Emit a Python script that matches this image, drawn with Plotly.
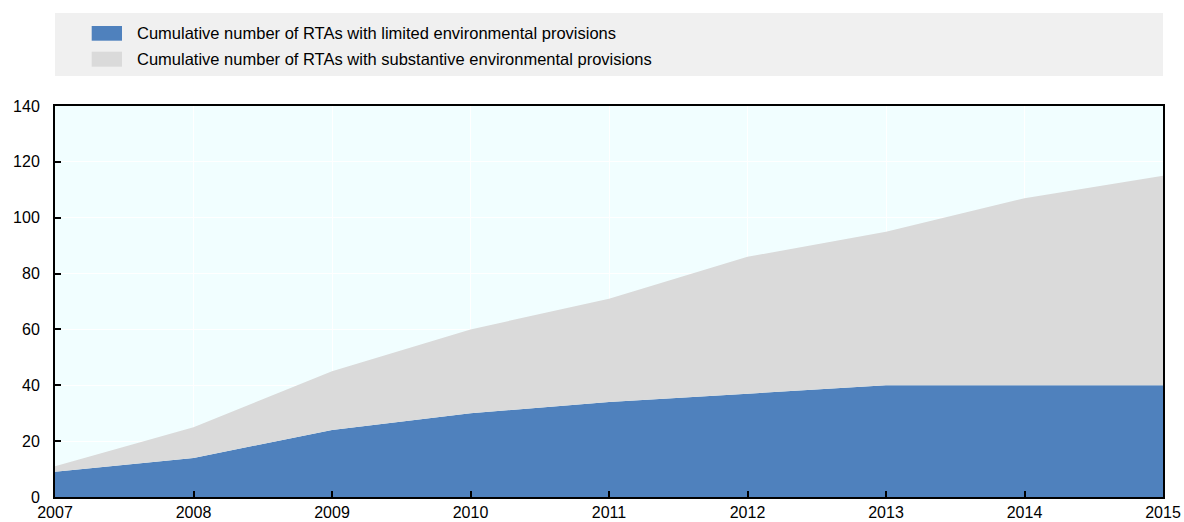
import plotly.graph_objects as go

years = [2007, 2008, 2009, 2010, 2011, 2012, 2013, 2014, 2015]
limited = [9, 14, 24, 30, 34, 37, 40, 40, 40]
substantive = [2, 11, 21, 30, 37, 49, 55, 67, 75]
series_names = [
    "Cumulative number of RTAs with limited environmental provisions",
    "Cumulative number of RTAs with substantive environmental provisions",
]
colors = ["#4F81BD", "#DADADA"]

W, H = 1184, 522
ML, MR, MT, MB = 55, 21, 106, 25
PW, PH = W - ML - MR, H - MT - MB


def px_x(p):
    return (p - ML) / PW


def px_y(p):
    return (H - MB - p) / PH


FONT = "Liberation Sans, Arial, sans-serif"

fig = go.Figure()
for vals, name, col in zip([limited, substantive], series_names, colors):
    fig.add_trace(go.Scatter(
        x=years, y=vals, name=name, stackgroup="one", mode="none",
        fillcolor=col, showlegend=False,
    ))

shapes = [
    dict(type="rect", xref="paper", yref="paper", x0=0, x1=1,
         y0=px_y(76), y1=px_y(13), fillcolor="#F0F0F0", line=dict(width=0), layer="below"),
]
annotations = []
leg_rows = [(26, 40.7, 33.5), (51.7, 66.7, 59)]
for (t, b, c), name, col in zip(leg_rows, series_names, colors):
    shapes.append(dict(type="rect", xref="paper", yref="paper",
                       x0=px_x(91.7), x1=px_x(122), y0=px_y(b), y1=px_y(t),
                       fillcolor=col, line=dict(width=0)))
    annotations.append(dict(text=name, xref="paper", yref="paper", x=px_x(135), y=px_y(c),
                            xanchor="left", yanchor="middle", showarrow=False,
                            font=dict(family=FONT, size=16.5, color="#000000")))

fig.update_layout(
    width=W, height=H,
    margin=dict(l=ML, r=MR, t=MT, b=MB, autoexpand=False),
    paper_bgcolor="#FFFFFF",
    plot_bgcolor="#F1FEFF",
    font=dict(family=FONT, size=16, color="#000000"),
    shapes=shapes,
    annotations=annotations,
    showlegend=False,
)
fig.update_xaxes(
    range=[2007, 2015], dtick=1, tick0=2007, automargin=False,
    showgrid=True, gridcolor="#FFFFFF", gridwidth=1,
    showline=True, linecolor="#000000", linewidth=2, mirror=True,
    ticks="inside", ticklen=6, tickcolor="#000000", tickwidth=2,
    zeroline=False,
)
fig.update_yaxes(
    range=[0, 140], dtick=20, automargin=False,
    showgrid=True, gridcolor="#FFFFFF", gridwidth=1,
    showline=True, linecolor="#000000", linewidth=2, mirror=True,
    ticks="inside", ticklen=6, tickcolor="#000000", tickwidth=2,
    zeroline=False, ticklabelstandoff=10,
)
fig.write_html(
    "out.html",
    config={"displayModeBar": False},
    post_script="document.body.style.margin='0px';document.body.style.overflow='hidden';",
)
